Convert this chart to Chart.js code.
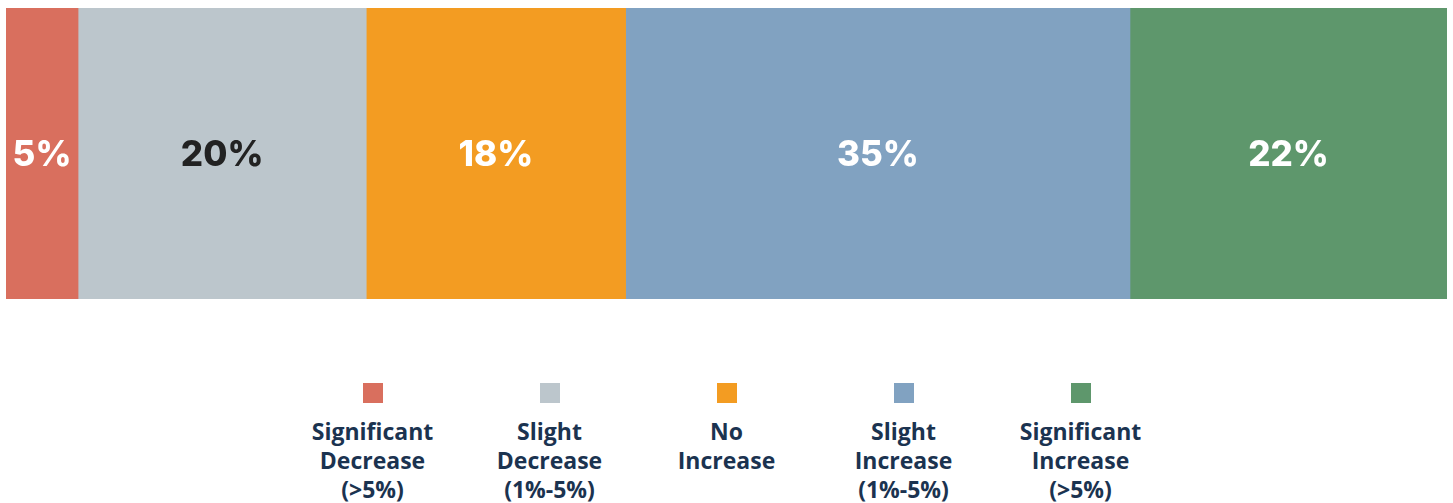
<!DOCTYPE html>
<html>
<head>
<meta charset="utf-8">
<script src="https://cdn.jsdelivr.net/npm/chart.js@4"></script>
<style>
  body { margin: 0; background: #fff; width: 1453px; height: 503px; overflow: hidden; position: relative; }
  #wrap { position: absolute; left: 0; top: 0; width: 1453px; height: 307px; }
  #legend { position: absolute; left: 0; top: 383px; width: 1453px; display: flex; justify-content: center; }
  .item { width: 177px; display: flex; flex-direction: column; align-items: center; }
  .box { width: 20px; height: 20px; margin-bottom: 14px; }
  .txt { font-family: "Open Sans", sans-serif; font-weight: 700; font-size: 23px; line-height: 29px; color: #1b3350; text-align: center; white-space: nowrap; }
</style>
</head>
<body>
<div id="wrap"><canvas id="c"></canvas></div>
<div id="legend"></div>
<script>
// Data
const categories = [
  "Significant\nDecrease\n(>5%)",
  "Slight\nDecrease\n(1%-5%)",
  "No\nIncrease",
  "Slight\nIncrease\n(1%-5%)",
  "Significant\nIncrease\n(>5%)",
];
const values = [5, 20, 18, 35, 22];
const colors = ["#D96F5E", "#BCC6CC", "#F39C22", "#81A2C1", "#5E976C"];
const labelColors = ["#ffffff", "#222222", "#ffffff", "#ffffff", "#ffffff"];

// value labels in the middle of each segment
const segmentLabels = {
  id: "segmentLabels",
  afterDatasetsDraw(chart) {
    const ctx = chart.ctx;
    ctx.save();
    ctx.font = "800 35px Inter, sans-serif";
    ctx.textAlign = "center";
    ctx.textBaseline = "middle";
    chart.data.datasets.forEach((ds, i) => {
      const bar = chart.getDatasetMeta(i).data[0];
      const p = bar.getProps(["x", "y", "base"], true);
      ctx.fillStyle = labelColors[i];
      ctx.fillText(ds.data[0] + "%", (p.x + p.base) / 2, p.y + 2);
    });
    ctx.restore();
  },
};

const ctx = document.getElementById("c");
new Chart(ctx, {
  type: "bar",
  data: {
    labels: [""],
    datasets: categories.map((c, i) => ({
      label: c,
      data: [values[i]],
      backgroundColor: colors[i],
      borderWidth: 0,
      categoryPercentage: 1,
      barPercentage: 1,
    })),
  },
  options: {
    indexAxis: "y",
    responsive: true,
    maintainAspectRatio: false,
    animation: false,
    layout: { padding: { left: 6, right: 6, top: 8, bottom: 8 } },
    scales: {
      x: { stacked: true, min: 0, max: 100, display: false },
      y: { stacked: true, display: false },
    },
    plugins: {
      legend: { display: false },
      tooltip: { enabled: false },
    },
  },
  plugins: [segmentLabels],
});

// legend
const legend = document.getElementById("legend");
categories.forEach((c, i) => {
  const item = document.createElement("div");
  item.className = "item";
  const box = document.createElement("div");
  box.className = "box";
  box.style.background = colors[i];
  const txt = document.createElement("div");
  txt.className = "txt";
  txt.innerHTML = c.split("\n").join("<br>");
  item.appendChild(box);
  item.appendChild(txt);
  legend.appendChild(item);
});
</script>
</body>
</html>
